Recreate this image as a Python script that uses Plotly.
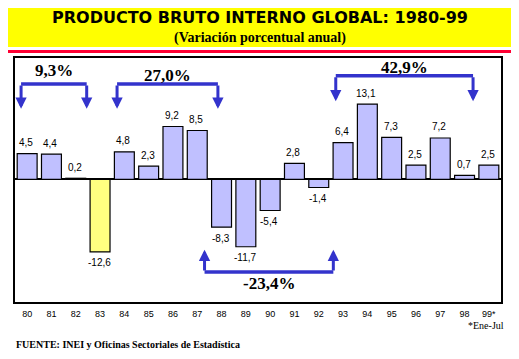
import plotly.graph_objects as go

years = ["80", "81", "82", "83", "84", "85", "86", "87", "88", "89",
         "90", "91", "92", "93", "94", "95", "96", "97", "98", "99*"]
growth = [4.5, 4.4, 0.2, -12.6, 4.8, 2.3, 9.2, 8.5, -8.3, -11.7,
          -5.4, 2.8, -1.4, 6.4, 13.1, 7.3, 2.5, 7.2, 0.7, 2.5]
value_labels = ["4,5", "4,4", "0,2", "-12,6", "4,8", "2,3", "9,2", "8,5", "-8,3", "-11,7",
                "-5,4", "2,8", "-1,4", "6,4", "13,1", "7,3", "2,5", "7,2", "0,7", "2,5"]
highlight_year = "83"

# cumulative-growth brackets
period_labels = ["9,3%", "27,0%", "42,9%", "-23,4%"]
period_start = [-0.25, 3.7, 12.7, 7.3]
period_end = [2.45, 7.85, 18.35, 12.6]

bracket_level = [16.6, 16.6, 18.0, -16.1]
bracket_tip = [12.3, 12.3, 13.6, -12.2]
label_level = [19.0, 18.1, 19.5, -18.0]

BAR = "#C0C0FF"
YEL = "#FFFF80"
BLUE = "#3333CC"

xs = list(range(len(years)))
colors = [YEL if y == highlight_year else BAR for y in years]

fig = go.Figure()
fig.add_trace(go.Bar(
    x=xs, y=growth, marker=dict(color=colors, line=dict(color="black", width=1.2)),
    width=0.82, hoverinfo="skip", showlegend=False,
))

annotations = []
for i, (v, t) in enumerate(zip(growth, value_labels)):
    annotations.append(dict(
        x=i, y=v, text=t, showarrow=False, xanchor="center", yanchor="middle",
        yshift=11 if v >= 0 else -11, xshift=-1,
        font=dict(family="Liberation Sans, Arial", size=10, color="black"),
    ))

shapes = []
for lab, x0, x1, lvl, tip, tl in zip(period_labels, period_start, period_end,
                                     bracket_level, bracket_tip, label_level):
    shapes.append(dict(type="line", xref="x", yref="y", x0=x0, x1=x1, y0=lvl, y1=lvl,
                       line=dict(color=BLUE, width=3.5)))
    for xx in (x0, x1):
        annotations.append(dict(
            x=xx, y=tip, ax=xx, ay=lvl, xref="x", yref="y", axref="x", ayref="y",
            text="", showarrow=True, arrowhead=2, arrowsize=0.75, arrowwidth=3,
            arrowcolor=BLUE, standoff=0, startstandoff=0,
        ))
    annotations.append(dict(
        x=(x0 + x1) / 2, y=tl, text="<b>" + lab + "</b>", showarrow=False,
        xanchor="center", yanchor="middle",
        font=dict(family="Liberation Serif, Times New Roman", size=17, color="black"),
    ))

# Title box
shapes.append(dict(type="rect", xref="paper", yref="paper",
                   x0=-0.0226, x1=1.0309, y0=1.045, y1=1.2254,
                   fillcolor="#FFFF00", line=dict(width=0), layer="below"))
shapes.append(dict(type="line", xref="paper", yref="paper",
                   x0=-0.0226, x1=1.0309, y0=1.0266, y1=1.0266,
                   line=dict(color="#FF0033", width=3)))

annotations += [
    dict(x=0.504, y=1.164, xref="paper", yref="paper", showarrow=False,
         text="<b>PRODUCTO BRUTO INTERNO GLOBAL: 1980-99</b>",
         font=dict(family="DejaVu Sans", size=16, color="black"), xanchor="center", yanchor="middle"),
    dict(x=0.504, y=1.082, xref="paper", yref="paper", showarrow=False,
         text="<b>(Variación porcentual anual)</b>",
         font=dict(family="Liberation Serif, Times New Roman", size=14, color="black"),
         xanchor="center", yanchor="middle"),
    dict(x=1.010, y=-0.098, xref="paper", yref="paper", showarrow=False,
         text="*Ene-Jul", font=dict(family="Liberation Serif", size=10, color="black"),
         xanchor="right", yanchor="middle"),
    dict(x=-0.002, y=-0.176, xref="paper", yref="paper", showarrow=False,
         text="<b>FUENTE: INEI y Oficinas Sectoriales de Estadística</b>",
         font=dict(family="Liberation Serif", size=10, color="black"),
         xanchor="left", yanchor="middle"),
]

# page body has an 8px default margin; compensate so the plot area sits where the reference has it
fig.update_layout(
    width=511, height=351,
    margin=dict(l=7, r=18, t=50, b=57),
    paper_bgcolor="white", plot_bgcolor="white",
    xaxis=dict(range=[-0.5, len(years) - 0.5], tickmode="array", tickvals=xs, ticktext=years,
               showgrid=False, zeroline=False, showline=True, mirror=True,
               linecolor="black", linewidth=1.5, ticks="", ticklabelstandoff=2,
               tickfont=dict(family="Liberation Sans, Arial", size=9, color="black")),
    yaxis=dict(range=[-21.3, 21.1], showgrid=False, zeroline=True, zerolinecolor="black",
               zerolinewidth=1.5, showline=True, mirror=True, linecolor="black",
               linewidth=1.5, showticklabels=False, ticks=""),
    shapes=shapes, annotations=annotations, bargap=0.18,
)

fig.write_html("out.html")
